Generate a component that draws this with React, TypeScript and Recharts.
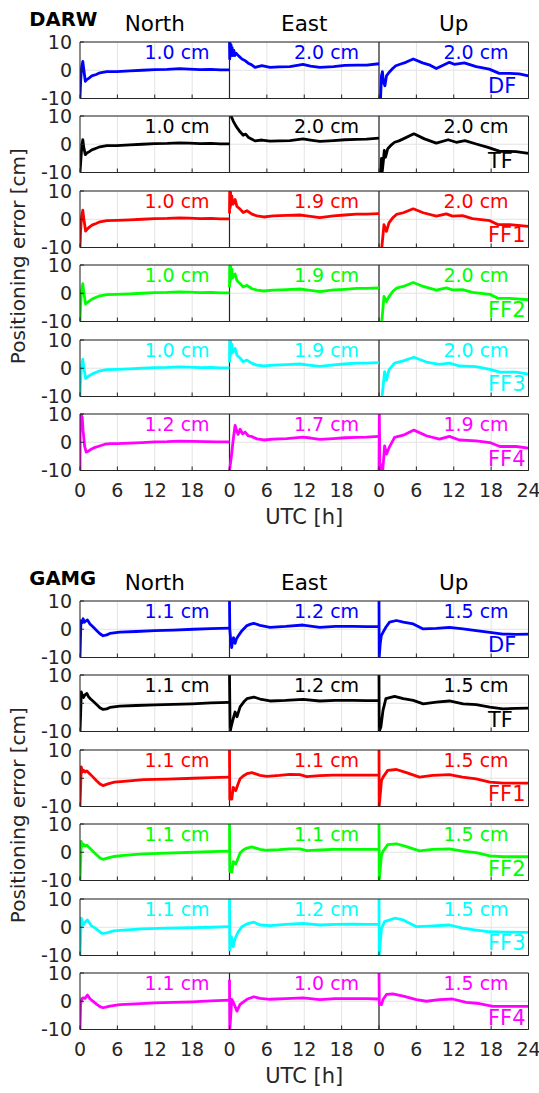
import React from "react";
import { LineChart, Line, XAxis, YAxis, CartesianGrid, ReferenceLine } from "recharts";

const STRATEGIES = ["DF", "TF", "FF1", "FF2", "FF3", "FF4"];
const COLORS = ["#0000ff", "#000000", "#ff0000", "#00ff00", "#00ffff", "#ff00ff"];
const COMPONENTS = ["North", "East", "Up"];
const HOUR_TICKS = [0, 6, 12, 18, 24, 30, 36, 42, 48, 54, 60, 66, 72];
const CM_TICKS = [-10, 0, 10];

// RMS labels (cm) per strategy
const DARW_RMS_N = ["1.0", "1.0", "1.0", "1.0", "1.0", "1.2"];
const DARW_RMS_E = ["2.0", "2.0", "1.9", "1.9", "1.9", "1.7"];
const DARW_RMS_U = ["2.0", "2.0", "2.0", "2.0", "2.0", "1.9"];
const GAMG_RMS_N = ["1.1", "1.1", "1.1", "1.1", "1.1", "1.1"];
const GAMG_RMS_E = ["1.2", "1.2", "1.1", "1.1", "1.2", "1.0"];
const GAMG_RMS_U = ["1.5", "1.5", "1.5", "1.5", "1.5", "1.5"];

// [hour, error cm]
const darwNorthDF = [[0,-10],[0.1,-4],[0.25,1],[0.45,3.1],[0.6,0.5],[0.85,-3.9],[1.1,-3.3],[1.5,-2.7],[1.9,-2],[2.6,-1.5],[3.2,-0.9],[4.3,-0.5],[5.9,-0.5],[8,-0.2],[10,0],[12,0.2],[14,0.3],[16,0.6],[17.5,0.4],[19.3,0.2],[21,0.3],[22.5,0.1],[24,0.1]];
const darwNorthTF = [[0,-10],[0.15,-5],[0.3,-0.5],[0.45,1.6],[0.6,-1],[0.85,-3.7],[1.1,-3.1],[1.5,-2.6],[1.9,-2],[2.6,-1.4],[3.2,-0.9],[4.3,-0.5],[5.9,-0.5],[8,-0.2],[10,0],[12,0.2],[14,0.3],[16,0.5],[17.5,0.4],[19.3,0.2],[21,0.3],[22.5,0.1],[24,0.1]];
const darwNorthFF1 = [[0,-10],[0.1,-4],[0.25,1],[0.45,3.2],[0.6,0.5],[0.9,-4.2],[1.2,-3.4],[1.6,-2.6],[2,-2],[2.6,-1.5],[3.2,-0.9],[4.3,-0.5],[5.9,-0.4],[8,-0.2],[10,0],[12,0.2],[14,0.3],[16,0.5],[17.5,0.4],[19.3,0.2],[21,0.3],[22.5,0.1],[24,0.1]];
const darwNorthFF2 = [[0,-10],[0.1,-4],[0.25,1],[0.45,3.4],[0.6,0.5],[0.9,-3.8],[1.2,-3.2],[1.6,-2.6],[2,-2],[2.6,-1.4],[3.2,-0.9],[4.3,-0.5],[5.9,-0.4],[8,-0.2],[10,0],[12,0.2],[14,0.3],[16,0.5],[17.5,0.4],[19.3,0.2],[21,0.3],[22.5,0.1],[24,0.1]];
const darwNorthFF3 = [[0,-10],[0.1,-4],[0.25,1],[0.45,3.2],[0.6,0.5],[0.9,-3.6],[1.2,-3.1],[1.6,-2.5],[2,-2],[2.6,-1.4],[3.2,-0.9],[4.3,-0.5],[5.9,-0.4],[8,-0.2],[10,0],[12,0.2],[14,0.3],[16,0.5],[17.5,0.4],[19.3,0.2],[21,0.3],[22.5,0.1],[24,0.1]];
const darwNorthFF4 = [[0,-10],[0.05,10],[0.2,9.6],[0.35,9],[0.5,4],[0.75,-1.5],[1,-3.5],[1.3,-3.2],[1.7,-2.6],[2.2,-2],[3,-1.4],[4,-0.7],[5,-0.5],[6,-0.5],[8,-0.3],[10,-0.1],[12,0.1],[14,0.2],[16,0.4],[18,0.3],[20,0.2],[22,0.1],[24,0.1]];

const darwEastDF = [[0,10],[0.04,4],[0.1,9.5],[0.17,5],[0.25,9],[0.33,5.5],[0.42,8],[0.55,5.2],[0.7,7],[0.85,5.2],[1.05,6],[1.5,5],[2,4],[2.5,3.4],[3,2.5],[3.5,2],[4.1,1],[5.2,1.6],[6.5,1],[8,1.2],[9.7,1.3],[11.8,2.1],[13,1.5],[14.5,1],[16.7,1.3],[18.5,1.7],[20.4,1.8],[22,1.8],[24,2.3]];
const darwEastTF = [[0.25,10],[0.45,9],[0.6,8.2],[0.8,7.4],[1,6.6],[1.3,5.6],[1.7,4.4],[2.2,3.2],[2.6,3.6],[3,2.5],[3.6,1.8],[4.1,1.2],[5.2,1.5],[6.5,1.1],[8,1.2],[9.7,1.3],[11.8,1.9],[13,1.5],[14.5,1],[16.7,1.3],[18.5,1.6],[20.4,1.7],[22,1.8],[24,2.2]];
const darwEastFF1 = [[0,2],[0.04,10],[0.1,4],[0.17,9.5],[0.25,5],[0.37,8.3],[0.5,5.5],[0.6,5.4],[0.9,7],[1.2,4.5],[1.7,3.6],[2.2,2.4],[2.8,3],[3.6,1.8],[4.4,1.2],[5.5,0.8],[7,1.2],[9.2,1.4],[11.3,1.5],[12.4,1.2],[14.5,0.6],[16.7,1.2],[18.5,1.5],[20.4,1.8],[22,1.8],[24,2]];
const darwEastFF2 = [[0,2],[0.04,10],[0.1,4],[0.17,9.5],[0.25,5],[0.37,8.5],[0.5,5.5],[0.6,5.8],[0.9,6.8],[1.2,4.5],[1.7,3.4],[2.2,2.2],[2.8,2.8],[3.6,1.6],[4.4,1.1],[5.5,0.8],[7,1.1],[9.2,1.3],[11.3,1.5],[12.4,1.2],[14.5,0.6],[16.7,1.2],[18.5,1.4],[20.4,1.7],[22,1.7],[24,1.9]];
const darwEastFF3 = [[0,2],[0.04,10],[0.1,4],[0.17,9.5],[0.25,5],[0.37,8.5],[0.5,5.5],[0.6,6],[0.9,7],[1.2,4.6],[1.7,3.6],[2.2,2.3],[2.8,2.9],[3.6,1.7],[4.4,1.1],[5.5,0.8],[7,1.1],[9.2,1.3],[11.3,1.5],[12.4,1.2],[14.5,0.7],[16.7,1.2],[18.5,1.5],[20.4,1.8],[22,1.8],[24,2]];
const darwEastFF4 = [[0,-10],[0.3,-5],[0.6,1],[0.9,6],[1.15,4],[1.4,2.8],[1.7,4.6],[2.1,3],[2.5,3.6],[3,2.3],[3.6,2],[4.4,1.2],[5.5,0.8],[7,1.1],[9.2,1.3],[11.8,1.8],[13,1.5],[14.5,1],[16.7,1.3],[18.5,1.6],[20.4,1.7],[22,1.8],[24,2.1]];

const darwUpDF = [[0,-10],[0.25,-10],[0.4,-2],[0.55,-0.5],[0.7,-4],[0.95,-5.5],[1.2,-2],[1.6,-0.8],[2.2,0.6],[2.7,1.6],[3.5,2.2],[4.3,2.8],[5.5,4],[7,2.6],[8.2,1.8],[9.2,0.6],[10.3,1.8],[11.3,2.8],[12.1,2.1],[13.7,2.6],[15.6,1.3],[17.7,0.4],[19.3,-1.1],[21,-1.1],[22.5,-1.3],[24,-2]];
const darwUpTF = [[0,-10],[0.3,-10],[0.4,-5],[0.5,-10],[0.7,-6],[0.85,-2.2],[1.05,-4.6],[1.4,-1.6],[2,-0.2],[2.5,0.7],[3.2,1.2],[3.9,1.9],[5.6,3.7],[7.3,1.9],[9.2,0.4],[11.1,1.6],[12.4,0.7],[13.8,1.3],[15.6,0.1],[17.5,-1.1],[19.4,-2.5],[22,-2.6],[24,-3.2]];
const darwUpFF1 = [[0.45,-10],[0.8,-1.9],[1.2,-4.3],[1.6,-1.3],[2.2,0.5],[2.8,1.7],[3.9,2.3],[5.5,3.7],[7.1,2.3],[9.2,1.1],[10.8,1.9],[11.8,1.1],[13.4,1.3],[15,0.2],[17.8,-0.5],[19.1,-1.9],[21,-1.9],[24,-2.5]];
const darwUpFF2 = [[0.45,-10],[0.8,-1.1],[1.2,-2.9],[1.6,-1.2],[2.2,0.6],[2.8,1.8],[3.9,2.4],[5.5,3.8],[7.1,2.4],[9.2,1.1],[10.8,1.9],[11.8,1.2],[13.4,1.3],[15,0.3],[17.8,-0.4],[19.1,-1.8],[21,-1.8],[24,-2.3]];
const darwUpFF3 = [[0.5,-10],[0.9,-1.2],[1.2,-4.2],[1.6,-0.6],[2.5,1.8],[3.9,2.6],[5.6,3.9],[7.6,2.2],[9.7,1.4],[11.3,1.8],[12.9,0.8],[15.6,0.6],[17.8,-0.4],[19.4,-1.4],[22,-1.4],[24,-2.1]];
const darwUpFF4 = [[0,-10],[0.05,10],[0.15,-10],[0.4,-8],[0.6,-10],[0.9,-1.3],[1.2,-4.2],[1.6,-2],[2.5,1.7],[3.9,2.5],[5.6,4.3],[7.6,2.3],[9.7,1.1],[11.3,2.1],[12.9,0.8],[15.6,0.5],[17.8,-0.1],[19.4,-1.5],[22,-1.5],[24,-2.1]];

const gamgNorthDF = [[0,-10],[0.15,3],[0.3,2.2],[0.5,3.7],[0.7,2.5],[0.85,2.8],[1.2,3.3],[1.6,1.9],[2.2,0.6],[2.7,-0.5],[3.2,-1.6],[3.7,-2.3],[4.3,-2],[4.8,-1.5],[6.4,-1],[9,-0.8],[12,-0.5],[15,-0.3],[18.2,0],[21,0.2],[24,0.4]];
const gamgNorthTF = [[0,-10],[0.1,-4],[0.2,4],[0.4,2.5],[0.55,2],[0.8,3],[1.1,3.5],[1.4,2.2],[1.7,1.5],[2.2,0.5],[2.7,-0.5],[3.2,-1.6],[3.7,-2.2],[4.3,-2],[4.8,-1.5],[6.4,-1],[9,-0.8],[12,-0.6],[15,-0.4],[18,-0.2],[21,0.1],[24,0.3]];
const gamgNorthFF1 = [[0,-10],[0.2,4],[0.4,2.2],[0.6,2.8],[0.8,2.2],[1.1,2.6],[1.6,1.5],[2.1,0.4],[2.7,-1],[3.2,-2],[3.7,-2.6],[4.5,-2],[5.5,-1.4],[7,-1.1],[10.2,-0.5],[14,-0.3],[18.2,0],[21,0.2],[24,0.4]];
const gamgNorthFF2 = [[0,-10],[0.2,3.8],[0.4,2.2],[0.6,2.8],[0.8,2.2],[1.1,2.5],[1.6,1.4],[2.1,0.3],[2.7,-1],[3.2,-2],[3.7,-2.5],[4.5,-2],[5.5,-1.5],[7,-1.1],[10.2,-0.6],[14,-0.3],[18.2,0],[21,0.2],[24,0.4]];
const gamgNorthFF3 = [[0,-10],[0.2,3.2],[0.5,0.8],[0.8,1.8],[1.2,2.6],[1.8,0.6],[2.5,-0.4],[3.2,-1.6],[3.5,-2.2],[4.3,-2],[5.4,-1.3],[7,-1],[10,-0.6],[14,-0.3],[18,-0.1],[21,0],[24,0.2]];
const gamgNorthFF4 = [[0,-10],[0.1,-1],[0.3,0.9],[0.5,1.2],[0.8,1],[1.2,2.2],[1.6,0.9],[2.2,-0.2],[2.7,-1.1],[3.2,-1.9],[3.7,-2.3],[4.3,-2],[4.8,-1.7],[6.4,-1.2],[9,-0.9],[12,-0.6],[15,-0.4],[18,-0.2],[21,0.1],[24,0.4]];

const gamgEastDF = [[0,10],[0.05,0],[0.2,-4],[0.35,-6.5],[0.5,-4],[0.65,-3],[0.9,-5],[1.1,-3.5],[1.4,-2.4],[2,-0.5],[2.8,1.3],[3.4,1.8],[3.9,2.1],[4.9,1.4],[6.5,0.7],[9,1],[11.8,1.5],[14.5,0.7],[17,1],[19.8,1],[22,0.9],[24,0.9]];
const gamgEastTF = [[0,10],[0.1,-10],[0.3,-8],[0.6,-5.4],[0.9,-3.1],[1.2,-4.8],[1.7,-1.3],[2.3,0.5],[2.8,1.6],[3.9,2.2],[4.9,1.5],[6.5,0.8],[9,1],[11.8,1.4],[14.5,0.8],[17,1],[19.8,1],[22,0.9],[24,0.9]];
const gamgEastFF1 = [[0,10],[0.05,-7.4],[0.37,-7.4],[0.6,-3.2],[1,-4.4],[1.3,-2.5],[1.7,-0.2],[2.2,0.8],[2.8,1.6],[3.6,2],[4.9,1],[6,0.7],[8,1],[9.7,1.4],[11.3,1.3],[12.4,0.6],[14.5,0.9],[16.6,1.1],[20,1.1],[24,1.1]];
const gamgEastFF2 = [[0,10],[0.05,-6.8],[0.37,-7],[0.6,-3.3],[1,-4.2],[1.3,-2.5],[1.7,-0.3],[2.2,0.8],[2.8,1.5],[3.6,1.9],[4.9,1],[6,0.7],[8,0.9],[9.7,1.2],[11.3,1.2],[12.4,0.6],[14.5,0.8],[16.6,1],[20,1],[24,1]];
const gamgEastFF3 = [[0,10],[0.05,-8.1],[0.3,-3.4],[0.6,-6.9],[0.9,-4],[1.4,-1.6],[2,0.2],[2.8,1.2],[3.9,1.8],[4.9,0.8],[6.5,0.6],[9,1],[11.8,1.4],[14.5,0.8],[17,1],[19.8,1.1],[22,1],[24,1]];
const gamgEastFF4 = [[0,7.6],[0.05,-10],[0.37,0.7],[0.64,-0.5],[1.2,-3.5],[1.7,-1.1],[2.8,0.7],[3.9,1.6],[4.9,1],[6.5,0.7],[9,0.9],[11.8,1.2],[14.5,0.6],[17,0.9],[19.8,0.9],[22,0.9],[24,0.8]];

const gamgUpDF = [[0,10],[0.03,-10],[0.2,-5],[0.37,-2.3],[0.64,-1.1],[1.1,0.7],[1.7,2.5],[2.8,3.1],[3.9,2.5],[5.5,1.9],[7.1,0.1],[9.2,0.3],[11.3,0.7],[13.5,0.1],[15.6,-0.5],[17.8,-1.1],[19.9,-1.7],[22,-1.8],[24,-1.7]];
const gamgUpTF = [[0,10],[0.03,-10],[0.3,-8.4],[0.64,-2.5],[1.1,1.6],[2.5,2.4],[3.9,1.6],[5.5,1],[7.1,-0.2],[9.2,0.4],[11.3,0.8],[13.5,-0.2],[15.6,-0.5],[17.8,-1.4],[19.9,-2],[22,-1.8],[24,-1.7]];
const gamgUpFF1 = [[0,10],[0.03,-10],[0.4,-0.8],[0.65,0.4],[1.4,2.8],[2.8,3.1],[4.4,2],[6.5,0.4],[8.6,1],[11.3,1.3],[13.4,0.4],[15.6,-0.2],[17.8,-1.4],[19.9,-1.7],[24,-1.7]];
const gamgUpFF2 = [[0,10],[0.03,-10],[0.4,-0.9],[0.65,0.3],[1.4,2.7],[2.8,3],[4.4,2],[6.5,0.5],[8.6,1],[11.3,1.2],[13.4,0.4],[15.6,-0.1],[17.8,-1.3],[19.9,-1.6],[24,-1.6]];
const gamgUpFF3 = [[0,10],[0.03,-10],[0.4,-0.4],[0.9,2],[2.5,3.2],[3.9,2.6],[6,0.2],[8,0.4],[11.3,0.8],[13.4,-0.3],[15.6,-1],[17.8,-1.6],[20,-1.7],[24,-1.8]];
const gamgUpFF4 = [[0,10],[0.05,-1],[0.4,-1.2],[0.64,0.6],[1.2,2.4],[2.2,2.6],[3.9,1.8],[6,0.6],[7.6,0],[9.7,0.6],[11.8,0.8],[14,-0.4],[16.1,-0.8],[18.3,-1.8],[24,-1.8]];

const DARW_CURVES = [
  [darwNorthDF, darwEastDF, darwUpDF],
  [darwNorthTF, darwEastTF, darwUpTF],
  [darwNorthFF1, darwEastFF1, darwUpFF1],
  [darwNorthFF2, darwEastFF2, darwUpFF2],
  [darwNorthFF3, darwEastFF3, darwUpFF3],
  [darwNorthFF4, darwEastFF4, darwUpFF4],
];
const GAMG_CURVES = [
  [gamgNorthDF, gamgEastDF, gamgUpDF],
  [gamgNorthTF, gamgEastTF, gamgUpTF],
  [gamgNorthFF1, gamgEastFF1, gamgUpFF1],
  [gamgNorthFF2, gamgEastFF2, gamgUpFF2],
  [gamgNorthFF3, gamgEastFF3, gamgUpFF3],
  [gamgNorthFF4, gamgEastFF4, gamgUpFF4],
];

const FONT = "DejaVu Sans";
const AXIS = "#262626";
const PLOT_LEFT = 80;
const PANEL_W = 149.5;
const PLOT_H = 56.5;
const ROW_PITCH = 74.5;

const hourLabel = (v: number) => (v === 72 ? "24" : String(v % 24));
const blank = () => "";

function PanelRow({ top, curves, color, last }: { top: number; curves: number[][][]; color: string; last: boolean }) {
  return (
    <div style={{ position: "absolute", left: 0, top: top - 10 }}>
      <LineChart width={539} height={96.5} margin={{ top: 9, right: 9.5, bottom: 0, left: 0 }}>
        <CartesianGrid stroke="#e3e3e3" />
        <XAxis
          dataKey="x"
          type="number"
          domain={[0, 72]}
          ticks={HOUR_TICKS}
          interval={0}
          height={30}
          allowDataOverflow
          tickSize={-4}
          tickMargin={17}
          stroke={AXIS}
          tickFormatter={last ? hourLabel : blank}
          tick={{ fill: AXIS, fontSize: 19, fontFamily: FONT }}
        />
        <XAxis
          xAxisId="top"
          orientation="top"
          type="number"
          domain={[0, 72]}
          ticks={HOUR_TICKS}
          interval={0}
          height={1}
          tickSize={-4}
          stroke={AXIS}
          tickFormatter={blank}
        />
        <YAxis
          domain={[-10, 10]}
          ticks={CM_TICKS}
          interval={0}
          width={80}
          allowDataOverflow
          tickSize={-4}
          tickMargin={12}
          stroke={AXIS}
          tick={{ fill: AXIS, fontSize: 19, fontFamily: FONT }}
        />
        <YAxis
          yAxisId="r"
          orientation="right"
          domain={[-10, 10]}
          ticks={CM_TICKS}
          interval={0}
          width={1}
          tickSize={-4}
          stroke={AXIS}
          tickFormatter={blank}
        />
        <ReferenceLine x={24} stroke={AXIS} strokeWidth={1.2} />
        <ReferenceLine x={48} stroke={AXIS} strokeWidth={1.2} />
        {curves.map((c, j) => (
          <Line
            key={j}
            data={c.map(([h, v]) => ({ x: h + 24 * j, y: v }))}
            dataKey="y"
            type="linear"
            stroke={color}
            strokeWidth={2.8}
            strokeLinejoin="round"
            dot={false}
            activeDot={false}
            isAnimationActive={false}
          />
        ))}
      </LineChart>
    </div>
  );
}

function Group({ name, top, curves, rms }: { name: string; top: number; curves: number[][][][]; rms: string[][] }) {
  const nameY = top - 15.7;
  const titleY = top - 11;
  return (
    <>
      {curves.map((row, i) => (
        <PanelRow key={i} top={top + i * ROW_PITCH} curves={row} color={COLORS[i]} last={i === 5} />
      ))}
      <svg width={539} height={1093} style={{ position: "absolute", left: 0, top: 0, pointerEvents: "none" }}>
        <text x={29.3} y={nameY} fontFamily={FONT} fontWeight="bold" fontSize={19.6} fill="#000">{name}</text>
        {COMPONENTS.map((c, j) => (
          <text key={c} x={PLOT_LEFT + PANEL_W * (j + 0.5)} y={titleY} textAnchor="middle" fontFamily={FONT} fontSize={21.5} fill="#000">{c}</text>
        ))}
        {curves.map((_, i) => {
          const rt = top + i * ROW_PITCH;
          return (
            <g key={i} fill={COLORS[i]} fontFamily={FONT}>
              {COMPONENTS.map((c, j) => (
                <text key={c} x={PLOT_LEFT + PANEL_W * j + 97} y={rt + 16.8} textAnchor="middle" fontSize={19}>{rms[j][i]} cm</text>
              ))}
              <text x={488} y={rt + 51.6} fontSize={21}>{STRATEGIES[i]}</text>
            </g>
          );
        })}
        <text x={PLOT_LEFT + PANEL_W * 1.5} y={top + 5 * ROW_PITCH + PLOT_H + 53} textAnchor="middle" fontFamily={FONT} fontSize={21} fill={AXIS}>UTC [h]</text>
        <text
          transform={`translate(25, ${top + (5 * ROW_PITCH + PLOT_H) / 2}) rotate(-90)`}
          textAnchor="middle"
          fontFamily={FONT}
          fontSize={20}
          fill={AXIS}
        >
          Positioning error [cm]
        </text>
      </svg>
    </>
  );
}

export default function App() {
  return (
    <div style={{ position: "absolute", left: 0, top: 0, width: 539, height: 1093, background: "#fff" }}>
      <Group name="DARW" top={41.7} curves={DARW_CURVES} rms={[DARW_RMS_N, DARW_RMS_E, DARW_RMS_U]} />
      <Group name="GAMG" top={600.7} curves={GAMG_CURVES} rms={[GAMG_RMS_N, GAMG_RMS_E, GAMG_RMS_U]} />
    </div>
  );
}
